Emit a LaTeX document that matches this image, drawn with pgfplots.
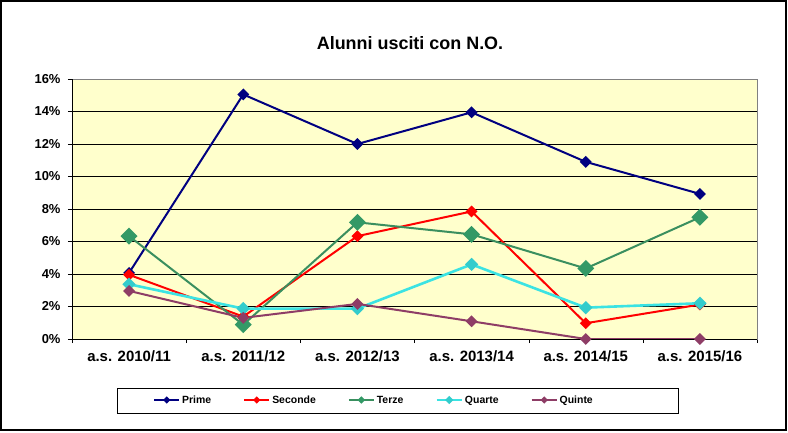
\documentclass[border=0pt]{standalone}
\usepackage{fontspec}
\setmainfont{Liberation Sans}
\usepackage{pgfplots}
\pgfplotsset{compat=1.18}

\definecolor{prime}{HTML}{000080}
\definecolor{seconde}{HTML}{FF0000}
\definecolor{terze}{HTML}{3A8F5F}
\definecolor{terzemk}{HTML}{339966}
\definecolor{quarte}{HTML}{3BE3E3}
\definecolor{quartemk}{HTML}{33CCCC}
\definecolor{quinte}{HTML}{8E3D66}
\definecolor{plotbg}{HTML}{FFFFCC}

\begin{document}
\begin{tikzpicture}[x=1bp,y=1bp]
  \useasboundingbox (-72,-93) rectangle (716,339);
  \draw[line width=1.5bp] (-71,-91) rectangle (714,338);
  \node[font=\fontsize{18}{21}\selectfont\bfseries] at (338,296) {Alunni usciti con N.O.};

  \begin{axis}[
      at={(0,0)}, anchor=south west,
      scale only axis,
      width=685bp, height=260bp,
      xmin=-0.5, xmax=5.5,
      ymin=0, ymax=16,
      axis background/.style={fill=plotbg},
      axis line style={draw=gray},
      xtick={0,1,2,3,4,5},
      xticklabels={a.s. 2010/11,a.s. 2011/12,a.s. 2012/13,a.s. 2013/14,a.s. 2014/15,a.s. 2015/16},
      minor xtick={-0.5,0.5,1.5,2.5,3.5,4.5,5.5},
      major x tick style={draw=none},
      minor x tick style={black},
      ytick={0,2,4,6,8,10,12,14,16},
      yticklabels={0\%,2\%,4\%,6\%,8\%,10\%,12\%,14\%,16\%},
      y tick style={black},
      tick align=outside,
      tick pos=left,
      major tick length=4bp,
      minor tick length=4bp,
      ymajorgrids,
      grid style={black, line width=0.8bp},
      x tick label style={font=\fontsize{15}{18}\selectfont\bfseries, yshift=-4bp},
      y tick label style={font=\fontsize{13}{15}\selectfont\bfseries, xshift=-4bp},
      legend style={
        at={(rel axis cs:0,0)}, anchor=west,
        xshift=81bp, yshift=-61bp,
        draw=none, fill=none,
        font=\fontsize{10.5}{12}\selectfont\bfseries,
        legend columns=5,
        nodes={text height=1.5ex, text depth=0.3ex},
        /tikz/every even column/.append style={column sep=30bp},
        inner sep=0pt,
      },
      legend cell align=left,
      legend image code/.code={
        \draw[#1, mark=none] (0bp,0bp) -- (25bp,0bp);
        \draw[#1, mark size=1.6bp, only marks] plot coordinates {(12.5bp,0bp)};
      },
      every axis plot/.append style={mark=square*},
    ]

    \addplot[prime, line width=2bp, mark size=3.2bp,
      mark options={solid, rotate=45, fill=prime}] coordinates {
      (0,4.07) (1,15.05) (2,12.0) (3,13.95) (4,10.9) (5,8.93)
    };
    \addlegendentry{Prime}

    \addplot[seconde, line width=2bp, mark size=3.2bp,
      mark options={solid, rotate=45, fill=seconde}] coordinates {
      (0,3.95) (1,1.38) (2,6.33) (3,7.85) (4,0.97) (5,2.12)
    };
    \addlegendentry{Seconde}

    \addplot[terze, line width=2bp, mark size=5bp,
      mark options={solid, rotate=45, draw=terzemk, fill=terzemk}] coordinates {
      (0,6.33) (1,0.88) (2,7.18) (3,6.44) (4,4.34) (5,7.49)
    };
    \addlegendentry{Terze}

    \addplot[quarte, line width=2.6bp, mark size=3.4bp,
      mark options={solid, rotate=45, draw=quartemk, fill=quartemk}] coordinates {
      (0,3.37) (1,1.87) (2,1.87) (3,4.59) (4,1.93) (5,2.2)
    };
    \addlegendentry{Quarte}

    \addplot[quinte, line width=2bp, mark size=3.2bp,
      mark options={solid, rotate=45, fill=quinte}] coordinates {
      (0,2.96) (1,1.3) (2,2.16) (3,1.09) (4,0) (5,0)
    };
    \addlegendentry{Quinte}

    \draw[gray, line width=0.8bp] (rel axis cs:0,1) -- (rel axis cs:1,1) -- (rel axis cs:1,0);
    \draw[black, line width=0.8bp] (rel axis cs:0,1) -- (rel axis cs:0,0) -- (rel axis cs:1,0);
  \end{axis}

  \draw[line width=1bp] (45,-49) rectangle (606,-74);
\end{tikzpicture}
\end{document}
